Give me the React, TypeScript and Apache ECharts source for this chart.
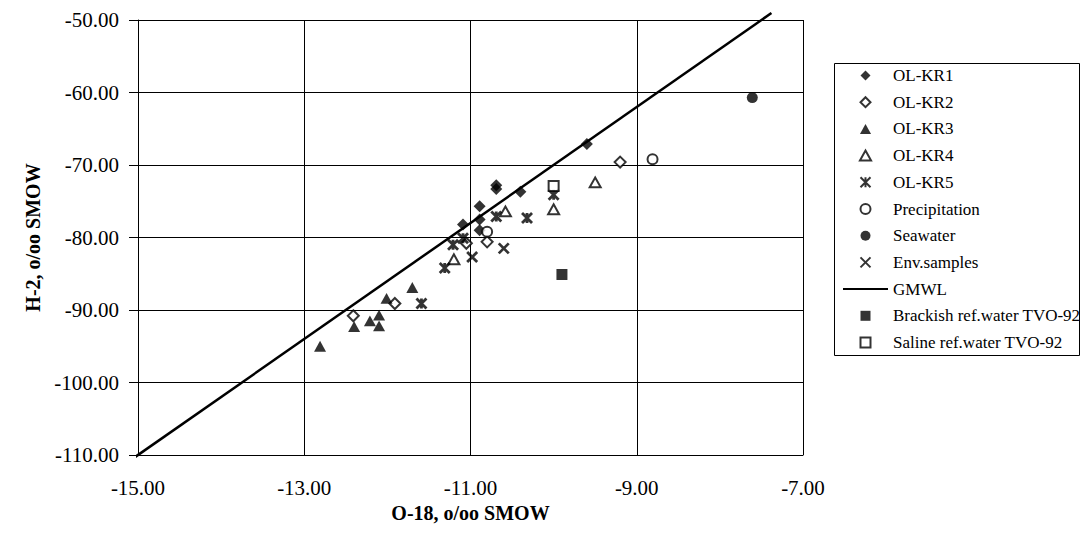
import React, { useEffect, useRef } from "react";
import * as echarts from "echarts";

const xTicks = [-15, -13, -11, -9, -7];
const yTicks = [-110, -100, -90, -80, -70, -60, -50];

const olkr1: number[][] = [
  [-9.6, -67.1], [-10.4, -73.7], [-10.69, -72.8], [-10.69, -73.3],
  [-10.89, -75.7], [-10.89, -77.5], [-11.09, -78.2], [-10.89, -79.0],
];
const olkr2: number[][] = [
  [-9.2, -69.6], [-10.8, -80.6], [-11.05, -80.8], [-11.91, -89.1], [-12.41, -90.8],
];
const olkr3: number[][] = [
  [-12.81, -95.0], [-12.4, -92.3], [-12.21, -91.5], [-12.1, -90.7],
  [-12.1, -92.2], [-12.01, -88.4], [-11.7, -86.9],
];
const olkr4: number[][] = [
  [-9.5, -72.4], [-10.0, -76.1], [-10.58, -76.4], [-11.2, -83.0],
];
const olkr5: number[][] = [
  [-10.0, -74.1], [-10.69, -77.1], [-10.32, -77.3], [-11.09, -80.1],
  [-11.21, -81.0], [-11.31, -84.2], [-11.59, -89.1],
];
const precipitation: number[][] = [[-8.81, -69.2], [-10.8, -79.2]];
const seawater: number[][] = [[-7.61, -60.7]];
const envSamples: number[][] = [[-10.6, -81.5], [-10.98, -82.7]];
const gmwl: number[][] = [[-15.08, -110.64], [-7.38, -49.04]];
const brackish: number[][] = [[-9.9, -85.1]];
const saline: number[][] = [[-10.0, -72.9]];

const legendNames = ["OL-KR1", "OL-KR2", "OL-KR3", "OL-KR4", "OL-KR5", "Precipitation",
  "Seawater", "Env.samples", "GMWL", "Brackish ref.water TVO-92", "Saline ref.water TVO-92"];

const FONT = "Liberation Serif";
const STAR = "path://M0,0L10,10M10,0L0,10M5,0L5,10";
const CROSS = "path://M0,0L10,10M10,0L0,10";
const DIAMOND = "path://M5,0L10,5L5,10L0,5Z";
const TRIANGLE = "path://M5,0L10,9L0,9Z";
const SQUARE = "path://M0,0L10,0L10,10L0,10Z";
const CIRCLE = "path://M0,5A5,5,0,1,1,10,5A5,5,0,1,1,0,5Z";

export default function App() {
  const ref = useRef<HTMLDivElement>(null);
  useEffect(() => {
    if (!ref.current) return;
    const chart = echarts.init(ref.current, undefined, { renderer: "svg" });
    const filled = { color: "#000" };
    const open = { color: "#fff", borderColor: "#000", borderWidth: 2 };
    const stroke = { color: "transparent", borderColor: "#000", borderWidth: 2.8 };
    const sc = (name: string, data: number[][], symbol: string, size: number, itemStyle: any) => ({
      name, type: "scatter", data, symbol, symbolSize: size, symbolKeepAspect: true, itemStyle, z: 3,
    });
    chart.setOption({
      animation: false,
      backgroundColor: "#fff",
      grid: { left: 138, top: 20, width: 665, height: 435 },
      xAxis: {
        type: "value", min: -15, max: -7, interval: 2,
        name: "O-18, o/oo SMOW", nameLocation: "middle", nameGap: 33,
        nameTextStyle: { fontFamily: FONT, fontSize: 20, fontWeight: "bold", color: "#000" },
        axisLine: { lineStyle: { color: "#000", width: 1 } },
        axisTick: { show: false },
        axisLabel: {
          fontFamily: FONT, fontSize: 21, color: "#000", margin: 22,
          formatter: (v: number) => (xTicks.includes(v) ? v.toFixed(2) : ""),
        },
        splitLine: { show: true, lineStyle: { color: "#000", width: 1 } },
      },
      yAxis: {
        type: "value", min: -110, max: -50, interval: 10,
        name: "H-2, o/oo SMOW", nameLocation: "middle", nameGap: 95,
        nameTextStyle: { fontFamily: FONT, fontSize: 20, fontWeight: "bold", color: "#000" },
        axisLine: { show: true, lineStyle: { color: "#000", width: 1 } },
        axisTick: { show: true, length: 9, lineStyle: { color: "#000" } },
        axisLabel: {
          fontFamily: FONT, fontSize: 21, color: "#000", margin: 19,
          formatter: (v: number) => (yTicks.includes(v) ? v.toFixed(2) : ""),
        },
        splitLine: { show: true, lineStyle: { color: "#000", width: 1 } },
      },
      legend: {
        orient: "vertical", left: 842, top: 67, itemWidth: 45, itemHeight: 10,
        itemGap: 9.7, padding: 0, symbolKeepAspect: true,
        textStyle: { fontFamily: FONT, fontSize: 17, color: "#000" },
        data: legendNames.map((n) =>
          n === "GMWL"
            ? { name: n, itemStyle: { color: "transparent", borderColor: "transparent", borderWidth: 0 },
                textStyle: { fontFamily: FONT, fontSize: 17, color: "#000" } }
            : { name: n, textStyle: { fontFamily: FONT, fontSize: 17, color: "#000" } }
        ),
      },
      graphic: [{
        type: "rect", shape: { x: 834.5, y: 63.5, width: 245, height: 292 },
        style: { fill: "none", stroke: "#000", lineWidth: 1 },
      }],
      series: [
        sc("OL-KR1", olkr1, DIAMOND, 12, filled),
        sc("OL-KR2", olkr2, DIAMOND, 11, open),
        sc("OL-KR3", olkr3, TRIANGLE, 12, filled),
        sc("OL-KR4", olkr4, TRIANGLE, 11, open),
        sc("OL-KR5", olkr5, STAR, 10, stroke),
        sc("Precipitation", precipitation, CIRCLE, 10, open),
        sc("Seawater", seawater, CIRCLE, 11, filled),
        sc("Env.samples", envSamples, CROSS, 10, stroke),
        {
          name: "GMWL", type: "line", data: gmwl, symbol: "none", clip: false,
          lineStyle: { color: "#000", width: 2.5 }, itemStyle: { color: "#000" }, z: 2,
        },
        sc("Brackish ref.water TVO-92", brackish, SQUARE, 11, filled),
        sc("Saline ref.water TVO-92", saline, SQUARE, 10, open),
      ],
    });
    return () => chart.dispose();
  }, []);
  return (
    <div
      ref={ref}
      style={{ position: "fixed", left: 0, top: 0, width: 1086, height: 542, background: "#fff" }}
    />
  );
}
